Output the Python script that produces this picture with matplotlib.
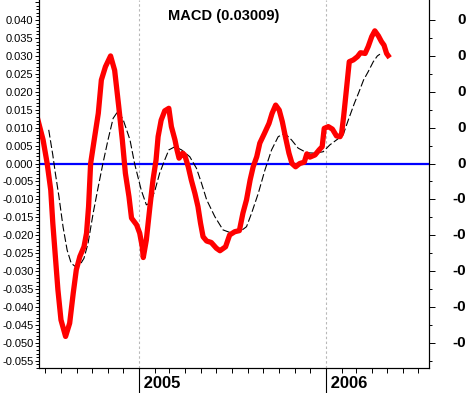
import matplotlib

matplotlib.use("Agg")
import matplotlib.pyplot as plt
import matplotlib.dates as mdates
import matplotlib.transforms as mtransforms
import numpy as np
from matplotlib.ticker import MultipleLocator, FixedLocator, FuncFormatter, NullFormatter

plt.rcParams["font.family"] = ["Liberation Sans", "DejaVu Sans"]
plt.rcParams["axes.unicode_minus"] = False

TITLE = "MACD (0.03009)"

macd_dates = [
    "2004-06-17", "2004-06-27", "2004-07-05", "2004-07-12", "2004-07-16", "2004-07-21",
    "2004-07-26", "2004-08-01", "2004-08-10", "2004-08-18", "2004-08-25", "2004-08-31",
    "2004-09-07", "2004-09-15", "2004-09-20", "2004-09-24", "2004-09-28", "2004-10-05",
    "2004-10-13", "2004-10-19", "2004-10-27", "2004-11-06", "2004-11-14", "2004-11-22",
    "2004-11-29", "2004-12-05", "2004-12-12", "2004-12-17", "2004-12-27", "2005-01-02",
    "2005-01-07", "2005-01-09", "2005-01-15", "2005-01-22", "2005-01-28", "2005-02-03",
    "2005-02-07", "2005-02-13", "2005-02-20", "2005-02-28", "2005-03-05", "2005-03-12",
    "2005-03-16", "2005-03-20", "2005-03-27", "2005-03-31", "2005-04-07", "2005-04-13",
    "2005-04-20", "2005-04-26", "2005-05-01", "2005-05-06", "2005-05-13", "2005-05-22",
    "2005-06-01", "2005-06-08", "2005-06-19", "2005-06-27", "2005-07-07", "2005-07-16",
    "2005-07-23", "2005-07-30", "2005-08-06", "2005-08-12", "2005-08-19", "2005-08-25",
    "2005-09-03", "2005-09-12", "2005-09-18", "2005-09-25", "2005-10-02", "2005-10-08",
    "2005-10-14", "2005-10-21", "2005-10-27", "2005-11-03", "2005-11-11", "2005-11-20",
    "2005-11-25", "2005-12-01", "2005-12-11", "2005-12-19", "2005-12-25", "2005-12-29",
    "2006-01-06", "2006-01-14", "2006-01-22", "2006-01-29", "2006-02-01", "2006-02-05",
    "2006-02-11", "2006-02-16", "2006-02-24", "2006-03-04", "2006-03-10", "2006-03-19",
    "2006-03-25", "2006-04-01", "2006-04-07", "2006-04-14", "2006-04-20", "2006-04-25",
    "2006-04-30", "2006-05-03",
]
macd_values = [
    0.0121, 0.0066, 0.0, -0.0074, -0.0166, -0.0259,
    -0.0352, -0.0436, -0.0482, -0.0445, -0.0361, -0.0296,
    -0.0259, -0.0232, -0.0194, -0.012, 0.0, 0.0066,
    0.014, 0.0233, 0.027, 0.030, 0.026, 0.0159,
    0.0066, -0.0027, -0.0092, -0.0152, -0.0171, -0.0194,
    -0.0232, -0.0262, -0.0213, -0.012, -0.0046, 0.001,
    0.0075, 0.0121, 0.0147, 0.0154, 0.0103, 0.0066,
    0.0038, 0.0015, 0.0029, 0.0024, -0.0009, -0.0046,
    -0.0083, -0.012, -0.0166, -0.0204, -0.0216, -0.022,
    -0.0236, -0.0243, -0.0232, -0.0199, -0.019, -0.0187,
    -0.0138, -0.0101, -0.0046, -0.0009, 0.0019, 0.0057,
    0.0084, 0.0112, 0.014, 0.0163, 0.0149, 0.0117,
    0.0075, 0.0029, 0.0, -0.0009, 0.0, 0.0004,
    0.0027, 0.0018, 0.0024, 0.0038, 0.0047, 0.0098,
    0.0103, 0.0096, 0.0077, 0.0075, 0.0084, 0.0131,
    0.0214, 0.0284, 0.0289, 0.0298, 0.0309, 0.0307,
    0.0326, 0.0354, 0.037, 0.0356, 0.034, 0.033,
    0.0307, 0.0301,
]

signal_dates = [
    "2004-07-08", "2004-07-16", "2004-07-21", "2004-07-28", "2004-08-05", "2004-08-13",
    "2004-08-21", "2004-08-29", "2004-09-07", "2004-09-15", "2004-09-23", "2004-10-03",
    "2004-10-13", "2004-10-22", "2004-11-01", "2004-11-11", "2004-11-21", "2004-12-01",
    "2004-12-14", "2004-12-23", "2005-01-05", "2005-01-15", "2005-01-23", "2005-02-01",
    "2005-02-10", "2005-02-20", "2005-02-28", "2005-03-12", "2005-03-25", "2005-04-10",
    "2005-04-23", "2005-05-03", "2005-05-13", "2005-05-29", "2005-06-14", "2005-07-01",
    "2005-07-17", "2005-07-30", "2005-08-09", "2005-08-22", "2005-09-04", "2005-09-17",
    "2005-09-30", "2005-10-13", "2005-10-26", "2005-11-08", "2005-11-25", "2005-12-11",
    "2005-12-27", "2006-01-09", "2006-01-26", "2006-02-04", "2006-02-14", "2006-02-26",
    "2006-03-06", "2006-03-16", "2006-03-25", "2006-04-04", "2006-04-12", "2006-04-17",
]
signal_values = [
    0.0094, 0.0024, -0.0027, -0.0092, -0.0176, -0.0241,
    -0.0278, -0.0287, -0.0283, -0.0264, -0.0222, -0.0138,
    -0.0064, 0.0, 0.0066, 0.0126, 0.0147, 0.0121,
    0.0066, 0.0, -0.0074, -0.0115, -0.011, -0.0074,
    -0.0027, 0.001, 0.0038, 0.0047, 0.0038, 0.0019,
    -0.0013, -0.0055, -0.0101, -0.0148, -0.0185, -0.0194,
    -0.019, -0.0176, -0.0138, -0.0083, -0.0018, 0.0038,
    0.0075, 0.0084, 0.0066, 0.0043, 0.003, 0.0029,
    0.0033, 0.0052, 0.007, 0.008, 0.0121, 0.0168,
    0.0196, 0.0233, 0.0256, 0.0284, 0.03, 0.0305,
]

years = [2005, 2006]
right_ticks = [0.04, 0.03, 0.02, 0.01, 0.0, -0.01, -0.02, -0.03, -0.04, -0.05]
right_minor = [0.035, 0.025, 0.015, 0.005, -0.005, -0.015, -0.025, -0.035, -0.045, -0.055]
# the right-hand labels only show their first characters in the reference
right_labels = ["0", "0", "0", "0", "0", "-0", "-0", "-0", "-0", "-0"]

macd_x = np.array(macd_dates, dtype="datetime64[D]")
signal_x = np.array(signal_dates, dtype="datetime64[D]")
year_x = [np.datetime64(f"{y}-01-01") for y in years]

fig = plt.figure(figsize=(4.67, 3.93), dpi=100)
ax = fig.add_axes([39 / 467, 1 - 368 / 393, 390 / 467, 368 / 393])

ax.set_xlim(np.datetime64("2004-06-19"), np.datetime64("2006-07-22"))
ax.set_ylim(-0.0570, 0.0456)

for yx in year_x:
    ax.axvline(yx, color="#b8b8b8", lw=0.8, linestyle=(0, (2.2, 2.2)), zorder=1)
ax.axhline(0, color="#0000ff", lw=1.6, zorder=2)
ax.plot(signal_x, signal_values, color="black", lw=0.8, linestyle=(0, (7, 2.5)), zorder=3)
ax.plot(macd_x, macd_values, color="#ff0000", lw=3.8, solid_joinstyle="round", zorder=4)

ax.text(0.474, 0.957, TITLE, transform=ax.transAxes, ha="center", va="center",
        fontsize=10.5, fontweight="bold")

# spines
ax.spines["top"].set_visible(False)
for s in ("left", "right", "bottom"):
    ax.spines[s].set_linewidth(0.8)

# left axis (no label for the tick that touches the top edge)
ax.yaxis.set_major_locator(MultipleLocator(0.005))
ax.yaxis.set_minor_locator(MultipleLocator(0.001))
ax.yaxis.set_major_formatter(FuncFormatter(lambda v, p: "" if v > 0.0425 else f"{v:.3f}"))
ax.tick_params(axis="y", which="major", length=3, width=0.7, pad=1, labelsize=8)
ax.tick_params(axis="y", which="minor", length=2, width=0.7)

# bottom axis: months, long ticks at years
ax.xaxis.set_minor_locator(mdates.MonthLocator())
ax.xaxis.set_major_locator(mdates.YearLocator())
ax.xaxis.set_major_formatter(NullFormatter())
ax.tick_params(axis="x", which="major", length=18.5, width=0.8)
ax.tick_params(axis="x", which="minor", length=3.6, width=0.7)
trans = mtransforms.blended_transform_factory(ax.transData, ax.transAxes)
for yx, y in zip(year_x, years):
    ax.text(yx, -20 / 368, f" {y}", transform=trans, ha="left", va="baseline",
            fontsize=12, fontweight="bold")

# right axis
ax2 = ax.twinx()
ax2.set_ylim(ax.get_ylim())
ax2.spines["top"].set_visible(False)
ax2.spines["right"].set_linewidth(0.8)
ax2.yaxis.set_major_locator(FixedLocator(right_ticks))
ax2.yaxis.set_minor_locator(FixedLocator(right_minor))
ax2.yaxis.set_major_formatter(NullFormatter())
ax2.tick_params(axis="y", which="major", length=4.3, width=0.7)
ax2.tick_params(axis="y", which="minor", length=2.2, width=0.7)
ytrans = mtransforms.blended_transform_factory(fig.transFigure, ax.transData)
for v, lab in zip(right_ticks, right_labels):
    fig.text(466 / 467, v, lab, transform=ytrans, ha="right", va="center",
             fontsize=11, fontweight="bold")

fig.savefig("out.png", dpi=100)
